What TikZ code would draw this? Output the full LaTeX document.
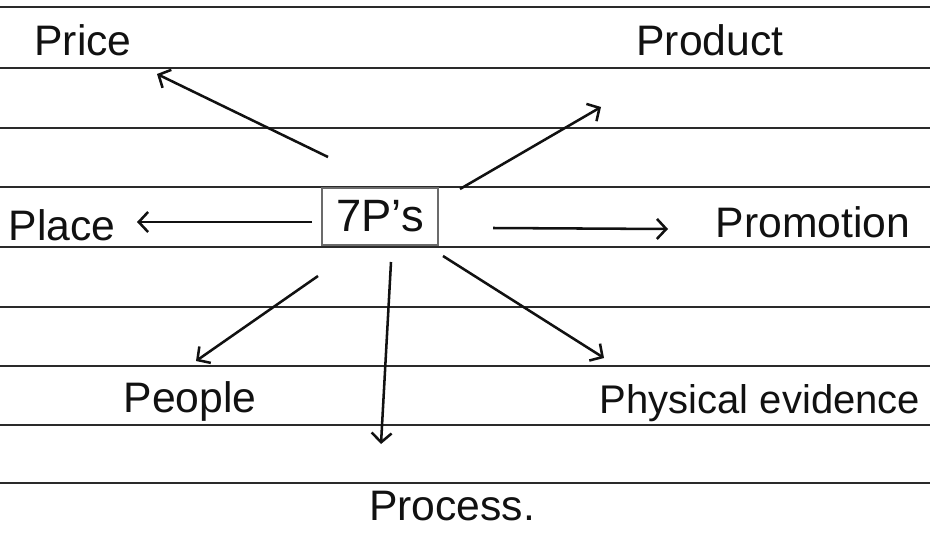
\documentclass[tikz,border=0pt]{standalone}
\usepackage{fontspec}
\setmainfont{Liberation Sans}
\usetikzlibrary{arrows.meta, positioning}
\definecolor{inkA}{HTML}{111111}
\definecolor{ruleG}{HTML}{2A2A2A}
\definecolor{boxG}{HTML}{6B6B6B}

\begin{document}
\begin{tikzpicture}[
  x=0.75pt, y=-0.75pt,
  word/.style={
    anchor=base, inner sep=0pt,
    font=\fontsize{32}{36}\selectfont, text=inkA
  },
  hubbox/.style={
    draw=boxG, line width=2pt,
    minimum width=87pt, minimum height=42.75pt,
    inner sep=0pt, font=\fontsize{34}{38}\selectfont, text=inkA
  },
  ruling/.style={ruleG, line width=1.4pt},
  arr/.style={-{Straight Barb[length=7pt, width=15pt, line width=1.9pt]}, line width=1.9pt, inkA}
]
\useasboundingbox (0,0) rectangle (930,532);

%% ═══ PAPIER ═══
\foreach \yy in {7,68,128,187,247,307,366,425,483}
  \draw[ruling] (0,\yy) -- (930,\yy);

%% ═══ CENTRE ═══
\node[hubbox] (hub) at (380,216.5) {7P's};

%% ═══ LABELS ═══
\node[word] (price)   at (83,55)   {Price};
\node[word] (product) at (710,55)  {Product};
\node[word] (place)   at (62,240)  {Place};
\node[word] (promo)   at (813,237) {Promotion};
\node[word] (people)  at (190,412) {People};
\node[word, font=\fontsize{30}{34}\selectfont] (physev) at (760,413) {Physical evidence};
\node[word] (process) at (452,520) {Process.};

%% ═══ ARROWS ═══
\draw[arr] ([shift={(-52,-59.5)}]hub.center) -- ([shift={(74,19)}]price.base);
\draw[arr] ([shift={(80,-27.5)}]hub.center)  -- ([shift={(-109,52)}]product.base);
\draw[arr] ([shift={(-68,5.5)}]hub.center)   -- ([shift={(75,-18)}]place.base);
\draw[arr] ([shift={(113,11.5)}]hub.center)  -- ([shift={(-145,-8)}]promo.base);
\draw[arr] ([shift={(-62,59.5)}]hub.center)  -- ([shift={(6,-51)}]people.base);
\draw[arr] ([shift={(11,45.5)}]hub.center)   -- ([shift={(-71,-76)}]process.base);
\draw[arr] ([shift={(63,39.5)}]hub.center)   -- ([shift={(-156,-55)}]physev.base);

\end{tikzpicture}
\end{document}
